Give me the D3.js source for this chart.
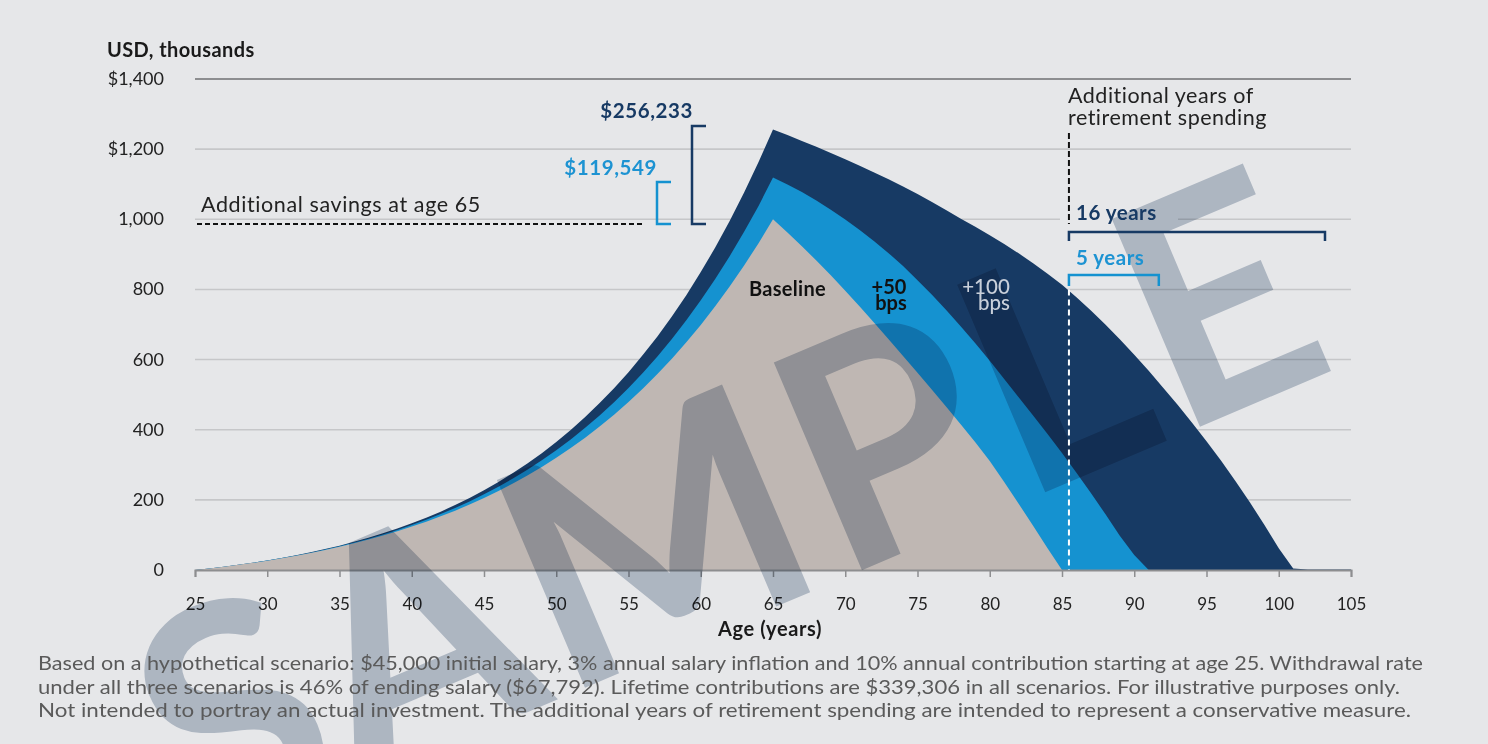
<!DOCTYPE html>
<html><head><meta charset="utf-8">
<script src="https://cdn.jsdelivr.net/npm/d3@7"></script>
<style>
html,body{margin:0;padding:0;background:#e6e7e9;}
svg{display:block;}
text{font-family:Lato,"Noto Sans",sans-serif;}
</style></head>
<body>
<svg id="chart" width="1488" height="744"></svg>
<script>
const ages = [25,26,27,28,29,30,31,32,33,34,35,36,37,38,39,40,41,42,43,44,45,46,47,48,49,50,51,52,53,54,55,56,57,58,59,60,61,62,63,64,65,66,67,68,69,70,71,72,73,74,75,76,77,78,79,80,81,82,83,84,85,86,87,88,89,90,91,92,93,94,95,96,97,98,99,100,101,102,103,104,105];
const baseline = [0,4.5,9.4,14.7,20.5,26.7,33.5,40.8,48.7,57.2,66.3,76.2,86.8,98.2,110.5,123.7,137.8,153,169.2,186.6,205.3,225.2,246.6,269.4,293.8,319.9,347.7,377.4,409.2,443,479.2,517.7,558.8,602.5,649.2,698.9,751.8,808.1,868.1,932,1000,
  962,923,882.5,840.5,796.5,751,705,658,610.5,562.5,514,465,415,364,311,251,189,126,62,0,0,0,0,0,0,0,0,0,0,0,0,0,0,0,0,0,0,0,0,0];
const plus50 = [0,4.5,9.4,14.8,20.6,27,33.9,41.4,49.5,58.3,67.9,78.2,89.3,101.3,114.3,128.2,143.3,159.5,176.8,195.6,215.8,237.4,260.6,285.8,312.6,341.3,372,405.4,440.7,478.5,519.1,562.2,609,658.6,712.1,769.1,830,894.6,964.5,1038.2,1119.5,
  1099.5,1077.5,1053.5,1027.5,999.5,969.5,937.5,903.5,866.5,826.5,784.5,740.5,694.5,646.5,596.5,544.5,492.5,440.5,387.5,333.5,277.5,219.5,159.5,97.5,42.5,0,0,0,0,0,0,0,0,0,0,0,0,0,0,0];
const plus100 = [0,4.5,9.5,14.9,20.8,27.3,34.3,42,50.4,59.6,69.5,80.2,91.9,104.5,118.2,133.1,149.1,166.4,185.3,205.5,227.3,250.9,276.4,303.6,333.1,364.9,399.2,435.9,475.9,518.3,564,613.5,666,723,783.6,849.4,919.4,994.8,1076.5,1163.1,1256.2,
  1240,1223.5,1206.5,1189,1171,1152.5,1133.5,1114,1093.5,1072,1049.5,1026,1001.5,978.5,954.5,929.5,903,875,845,813,778,740,700,658,614,568,520,471,420,367,312,254,193,129,62,4,1.5,1.5,1.5,1.5];
const yTicks = [0,200,400,600,800,1000,1200,1400];
const yTickLabels = ["0","200","400","600","800","1,000","$1,200","$1,400"];
const xTicks = [25,30,35,40,45,50,55,60,65,70,75,80,85,90,95,100,105];
const footnote = [
  "Based on a hypothetical scenario: $45,000 initial salary, 3% annual salary inflation and 10% annual contribution starting at age 25. Withdrawal rate",
  "under all three scenarios is 46% of ending salary ($67,792). Lifetime contributions are $339,306 in all scenarios. For illustrative purposes only.",
  "Not intended to portray an actual investment. The additional years of retirement spending are intended to represent a conservative measure."
];

const C = {navy:"#173a64", blue:"#1592d0", blueText:"#1d93d2", taupe:"#bfb7b3", text:"#1a1a1a", bg:"#e6e7e9"};
const svg = d3.select("#chart");
svg.append("rect").attr("width",1488).attr("height",744).attr("fill",C.bg);

const x = d3.scaleLinear().domain([25,105]).range([195,1351]);
const y = d3.scaleLinear().domain([0,1400]).range([570,79]);

// gridlines
svg.append("g").selectAll("line").data(yTicks.filter(d=>d>0)).join("line")
  .attr("x1",195).attr("x2",1351).attr("y1",d=>y(d)).attr("y2",d=>y(d))
  .attr("stroke",d=>d===1400?"#8d8e90":"#c6c7c9").attr("stroke-width",d=>d===1400?2:1.6);
// label background hiding gridline under "16 years"
svg.append("rect").attr("x",1060).attr("y",204).attr("width",118).attr("height",22).attr("fill",C.bg);

// areas
const series = [{v:plus100,c:C.navy},{v:plus50,c:C.blue},{v:baseline,c:C.taupe}];
const area = vals => d3.area().x((d,i)=>x(ages[i])).y0(y(0)).y1(d=>y(d))(vals);
svg.append("g").selectAll("path").data(series).join("path")
  .attr("d",d=>area(d.v)).attr("fill",d=>d.c);

// y labels
svg.append("g").selectAll("text").data(yTicks).join("text")
  .attr("x",164).attr("y",d=>y(d)+6).attr("text-anchor","end")
  .attr("font-size",18).attr("fill","#222").text((d,i)=>yTickLabels[i]);
svg.append("text").attr("x",107).attr("y",57).attr("font-size",20).attr("letter-spacing",0.4).attr("font-weight",700)
  .attr("fill",C.text).text("USD, thousands");

// x axis
const xAxis = d3.axisBottom(x).tickValues(xTicks).tickSize(7).tickPadding(21).tickFormat(d3.format("d"));
const gx = svg.append("g").attr("transform",`translate(0,${y(0)})`).call(xAxis);
gx.select(".domain").attr("stroke","#8d8e90").attr("stroke-width",2);
gx.selectAll(".tick line").attr("stroke","#8d8e90").attr("stroke-width",1.5);
gx.selectAll(".tick text").attr("font-size",17).attr("fill","#222").attr("font-family","Lato,'Noto Sans',sans-serif");
svg.append("text").attr("x",770).attr("y",636).attr("text-anchor","middle").attr("font-size",20).attr("letter-spacing",0.6)
  .attr("font-weight",700).attr("fill",C.text).text("Age (years)");

// watermark
svg.append("text").attr("transform","translate(198,852) rotate(-23)")
  .attr("font-family","'Liberation Sans',Arial,sans-serif").attr("font-weight",700).attr("letter-spacing",6)
  .attr("font-size",312).attr("fill","#c0c9d4").style("mix-blend-mode","multiply").text("SAMPLE");

// additional savings annotation
svg.append("line").attr("x1",197).attr("x2",645).attr("y1",224).attr("y2",224)
  .attr("stroke","#111").attr("stroke-width",2).attr("stroke-dasharray","5,3");
svg.append("text").attr("x",201).attr("y",212).attr("font-size",21.5).attr("letter-spacing",0.6).attr("fill","#222")
  .text("Additional savings at age 65");
const bracketV = (xx, y1, y2, col) => svg.append("path")
  .attr("d",`M${xx+14},${y1}H${xx}V${y2}H${xx+14}`).attr("fill","none").attr("stroke",col).attr("stroke-width",2.5);
bracketV(657,182,224,C.blue);
bracketV(692,126,224,C.navy);
svg.append("text").attr("x",657).attr("y",175).attr("text-anchor","end").attr("font-size",20.5).attr("letter-spacing",0.6).attr("font-weight",700)
  .attr("fill",C.blueText).text("$119,549");
svg.append("text").attr("x",693).attr("y",118).attr("text-anchor","end").attr("font-size",20.5).attr("letter-spacing",0.6).attr("font-weight",700)
  .attr("fill",C.navy).text("$256,233");

// additional years annotation
svg.append("text").attr("x",1068).attr("y",103).attr("font-size",21.5).attr("letter-spacing",0.5).attr("fill","#222").text("Additional years of");
svg.append("text").attr("x",1068).attr("y",125).attr("font-size",21.5).attr("letter-spacing",0.5).attr("fill","#222").text("retirement spending");
const xs = x(85.48), x16e = x(103.2), x5e = x(91.7);
svg.append("line").attr("x1",xs).attr("x2",xs).attr("y1",133).attr("y2",224)
  .attr("stroke","#111").attr("stroke-width",2).attr("stroke-dasharray","6,3");
svg.append("path").attr("d",`M${xs},241V232H${x16e}V241`).attr("fill","none").attr("stroke",C.navy).attr("stroke-width",2.5);
svg.append("path").attr("d",`M${xs},286V275H${x5e}V286`).attr("fill","none").attr("stroke",C.blue).attr("stroke-width",2.5);
svg.append("text").attr("x",1076).attr("y",220).attr("font-size",20.5).attr("letter-spacing",0.5).attr("font-weight",700).attr("fill",C.navy).text("16 years");
svg.append("text").attr("x",1076).attr("y",265).attr("font-size",20.5).attr("letter-spacing",0.5).attr("font-weight",700).attr("fill",C.blueText).text("5 years");
svg.append("line").attr("x1",xs).attr("x2",xs).attr("y1",y(800)).attr("y2",y(0))
  .attr("stroke","#fff").attr("stroke-width",2).attr("stroke-dasharray","6,4");

// series labels
svg.append("text").attr("x",749).attr("y",296).attr("font-size",20).attr("letter-spacing",0.3).attr("font-weight",700).attr("fill","#111").text("Baseline");
svg.append("text").attr("x",889).attr("y",294).attr("text-anchor","middle").attr("font-size",20).attr("font-weight",700).attr("fill","#111").text("+50");
svg.append("text").attr("x",891).attr("y",310).attr("text-anchor","middle").attr("font-size",20).attr("font-weight",700).attr("fill","#111").text("bps");
svg.append("text").attr("x",986).attr("y",294).attr("text-anchor","middle").attr("font-size",20.5).attr("font-weight",500).attr("fill","#c8cfda").text("+100");
svg.append("text").attr("x",994).attr("y",310).attr("text-anchor","middle").attr("font-size",20.5).attr("font-weight",500).attr("fill","#c8cfda").text("bps");

// footnote
const fnW = [1385,1362,1373];
svg.append("g").selectAll("text").data(footnote).join("text")
  .attr("x",38).attr("y",(d,i)=>670+i*23.5).attr("font-size",19).attr("fill","#5a5a5a")
  .attr("textLength",(d,i)=>fnW[i]).attr("lengthAdjust","spacingAndGlyphs").text(d=>d);
</script>
</body></html>
